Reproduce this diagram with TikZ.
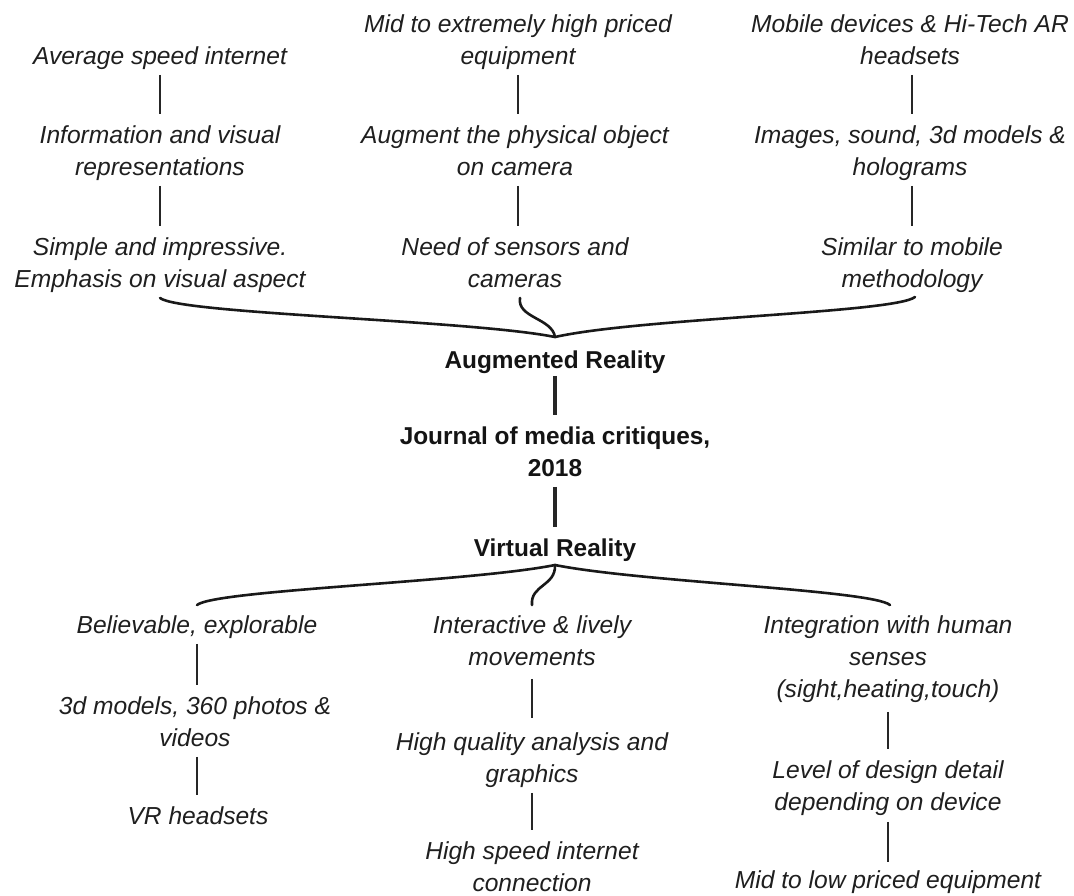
\documentclass[tikz,border=0pt]{standalone}
\usepackage{fontspec}
\setmainfont{Liberation Sans}
\begin{document}
\begin{tikzpicture}[x=1pt,y=-1pt,
  txt/.style={font=\fontsize{24.6}{32}\selectfont\itshape, align=center, inner sep=0pt, anchor=base, text=black!88},
  hdr/.style={font=\fontsize{24.4}{32}\selectfont\bfseries, align=center, inner sep=0pt, anchor=base, text=black!92},
  link/.style={line width=#1, draw=black!85, shorten <=1pt, shorten >=6.6pt},
  link/.default=1.5pt,
  bracearm/.style={line width=2.6pt, line cap=round, draw=black!90}]
\useasboundingbox (0,0) rectangle (1074,895);
\fill[white] (0,0) rectangle (1074,895);

% AR columns (anchor = baseline of last line)
\node[txt] (t1) at (160,64) {\strut Average speed internet};
\node[txt] (t2) at (518,64) {\strut Mid to extremely high priced\\\strut equipment};
\node[txt] (t3) at (910,64) {\strut Mobile devices \& Hi-Tech AR\\\strut headsets};
\node[txt] (m1) at (160,175) {\strut Information and visual\\\strut representations};
\node[txt] (m2) at (515,175) {\strut Augment the physical object\\\strut on camera};
\node[txt] (m3) at (910,175) {\strut Images, sound, 3d models \&\\\strut holograms};
\node[txt] (b1) at (160,287) {\strut Simple and impressive.\\\strut Emphasis on visual aspect};
\node[txt] (b2) at (515,287) {\strut Need of sensors and\\\strut cameras};
\node[txt] (b3) at (912,287) {\strut Similar to mobile\\\strut methodology};

% centre
\node[hdr] (ar) at (555,368) {\strut Augmented Reality};
\node[hdr] (jm) at (555,476) {\strut Journal of media critiques,\\\strut 2018};
\node[hdr] (vr) at (555,556) {\strut Virtual Reality};

% VR columns
\node[txt] (v1) at (197,633) {\strut Believable, explorable};
\node[txt] (v2) at (532,665) {\strut Interactive \& lively\\\strut movements};
\node[txt] (v3) at (888,697) {\strut Integration with human\\\strut senses\\\strut (sight,heating,touch)};
\node[txt] (w1) at (195,746) {\strut 3d models, 360 photos \&\\\strut videos};
\node[txt] (w2) at (532,782) {\strut High quality analysis and\\\strut graphics};
\node[txt] (w3) at (888,810) {\strut Level of design detail\\\strut depending on device};
\node[txt] (x1) at (198,824) {\strut VR headsets};
\node[txt] (x2) at (532,891) {\strut High speed internet\\\strut connection};
\node[txt] (x3) at (888,888) {\strut Mid to low priced equipment};

% AR connectors
\draw[link=1.3pt] (t1.south) -- (t1.south |- m1.north);
\draw[link=1.3pt] (t2.south) -- (t2.south |- m2.north);
\draw[link=1.3pt] ([xshift=2pt]t3.south) -- ([xshift=2pt]t3.south |- m3.north);
\draw[link=2pt] (m1.south) -- (m1.south |- b1.north);
\draw[link=2pt] (t2.south |- m2.south) -- (t2.south |- b2.north);
\draw[link=2pt] ([xshift=2pt]m3.south) -- ([xshift=2pt]m3.south |- b3.north);

% centre connectors
\draw[link=3.2pt, shorten <=-2pt] (ar.south) -- (jm.north);
\draw[link=3.2pt] (jm.south) -- (vr.north);

% VR connectors
\draw[link=2pt] (v1.south) -- (v1.south |- w1.north);
\draw[link=1.5pt] (v1.south |- w1.south) -- (v1.south |- x1.north);
\draw[link=1.5pt, shorten <=4pt, shorten >=9pt] (v2.south) -- (v2.south |- w2.north);
\draw[link=1.3pt] (w2.south) -- (w2.south |- x2.north);
\draw[link=2pt, shorten <=5pt] (v3.south) -- (v3.south |- w3.north);
\draw[link=1.5pt, shorten <=2pt, shorten >=3.5pt] (w3.south) -- (w3.south |- x3.north);

% AR brace
\coordinate (bl) at (160,298);
\coordinate (bm) at (520,298);
\coordinate (br) at (915,297);
\coordinate (btip) at (555,337);
\draw[bracearm] (bl) .. controls (180,314) and (470,320) .. (btip);
\draw[bracearm] (br) .. controls (895,313) and (640,318) .. (btip);
\draw[bracearm] (bm) .. controls (517,318) and (552,318) .. (btip);

% VR brace
\coordinate (vtip) at (555,565);
\coordinate (vl) at (197,605);
\coordinate (vm) at (532,605);
\coordinate (vrr) at (890,605);
\draw[bracearm] (vl) .. controls (215,590) and (470,582) .. (vtip);
\draw[bracearm] (vrr) .. controls (872,590) and (640,582) .. (vtip);
\draw[bracearm] (vm) .. controls (530,585) and (556,586) .. (vtip);
\end{tikzpicture}
\end{document}
